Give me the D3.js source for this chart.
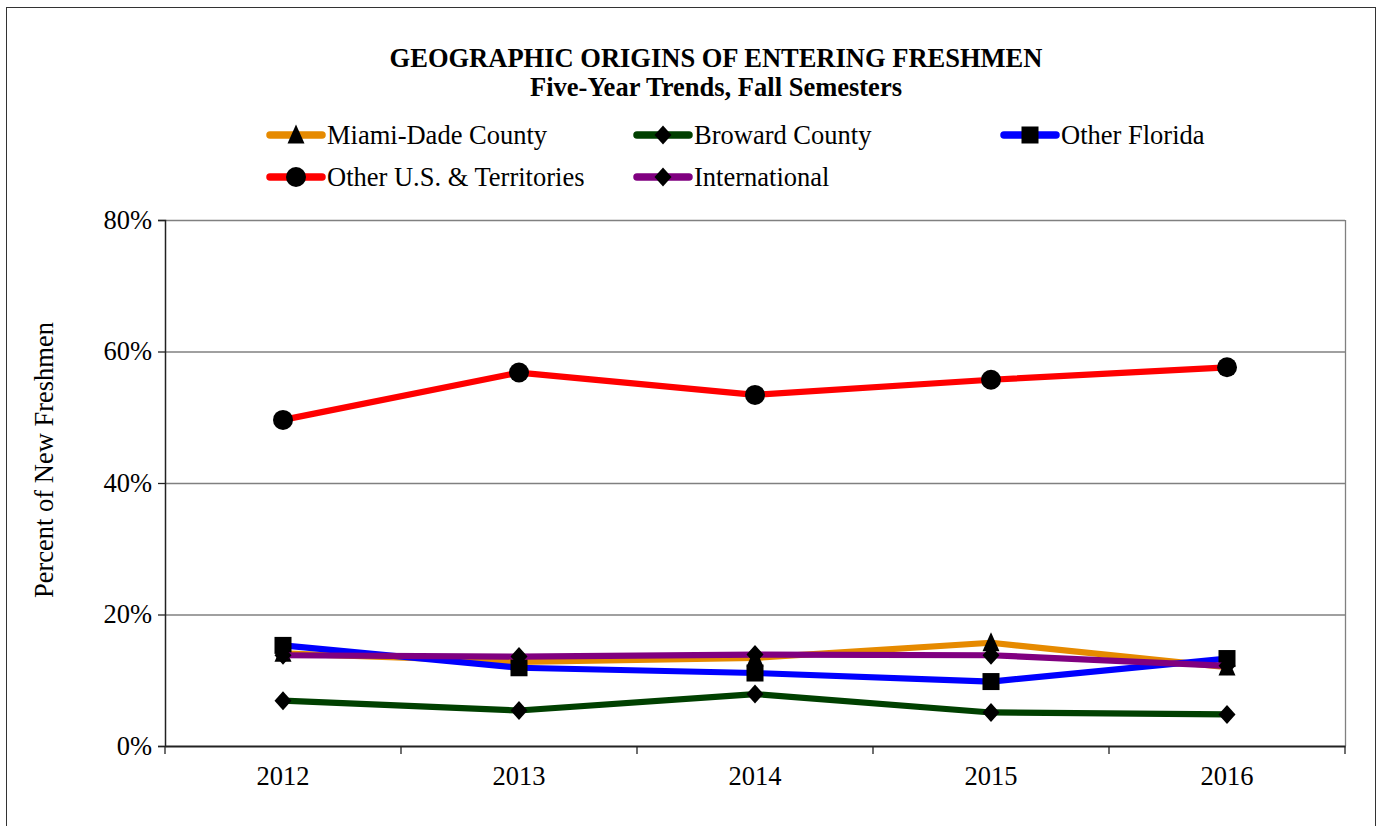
<!DOCTYPE html>
<html><head><meta charset="utf-8">
<script src="https://cdn.jsdelivr.net/npm/d3@7"></script>
<style>body{margin:0;background:#fff}svg text{font-family:"Liberation Serif","Times New Roman",serif}</style>
</head><body><svg id="c" width="1383" height="826"></svg>
<script>
const years = ["2012","2013","2014","2015","2016"];
const miamiDade = [14.1, 12.8, 13.4, 15.7, 12.0];
const broward = [6.9, 5.4, 7.9, 5.1, 4.8];
const otherFlorida = [15.3, 11.9, 11.1, 9.8, 13.3];
const otherUS = [49.6, 56.8, 53.4, 55.7, 57.6];
const international = [13.8, 13.6, 13.9, 13.8, 12.2];
const yTicks = [0, 20, 40, 60, 80];

const series = [
  {name:"Miami-Dade County", values:miamiDade, color:"#E68A00", marker:"triangle"},
  {name:"Broward County", values:broward, color:"#004000", marker:"diamond"},
  {name:"Other Florida", values:otherFlorida, color:"#0000FF", marker:"square"},
  {name:"Other U.S. & Territories", values:otherUS, color:"#FF0000", marker:"circle"},
  {name:"International", values:international, color:"#800080", marker:"diamond"}
];
const drawOrder = [0, 2, 4, 1, 3];
const FS = 26.5;

const svg = d3.select("#c");
svg.append("rect").attr("x",6.5).attr("y",7.5).attr("width",1369).attr("height",830)
  .attr("fill","#fff").attr("stroke","#333").attr("stroke-width",1);

const L=165, R=1345, T=220, B=746;
const x = d3.scaleBand().domain(years).range([L,R]);
const y = d3.scaleLinear().domain([0,80]).range([B,T]);

svg.append("g").selectAll("line").data(yTicks.filter(d=>d>0)).join("line")
  .attr("x1",L).attr("x2",R).attr("y1",d=>y(d)+0.5).attr("y2",d=>y(d)+0.5)
  .attr("stroke","#808080").attr("stroke-width",1.3);
svg.append("line").attr("x1",R+0.5).attr("x2",R+0.5).attr("y1",T).attr("y2",B)
  .attr("stroke","#808080").attr("stroke-width",1.3);

const ya = svg.append("g").attr("transform",`translate(${L},0)`)
  .call(d3.axisLeft(y).tickValues(yTicks).tickFormat(d=>d+"%").tickSizeOuter(0).tickSize(7).tickPadding(6));
ya.select(".domain").attr("stroke","#222").attr("stroke-width",1.5);
ya.selectAll(".tick line").attr("stroke","#222").attr("stroke-width",1.3);
ya.selectAll("text").attr("font-size",FS).attr("fill","#000").attr("font-family","Liberation Serif");

const xa = svg.append("g").attr("transform",`translate(0,${B})`)
  .call(d3.axisBottom(x).tickSize(0).tickPadding(20));
xa.select(".domain").attr("stroke","#222").attr("stroke-width",1.8);
xa.selectAll("text").attr("font-size",FS).attr("fill","#000").attr("font-family","Liberation Serif");
const bounds = years.map(d=>x(d)).concat([R]);
svg.append("g").selectAll("line").data(bounds).join("line")
  .attr("x1",d=>d).attr("x2",d=>d).attr("y1",B).attr("y2",B+8)
  .attr("stroke","#222").attr("stroke-width",1.3);

const cx = d => x(d)+x.bandwidth()/2;
function marker(g, type, px, py){
  if(type==="circle") g.append("circle").attr("cx",px).attr("cy",py).attr("r",10).attr("fill","#000");
  else if(type==="square") g.append("rect").attr("x",px-8.5).attr("y",py-8.5).attr("width",17).attr("height",17).attr("fill","#000");
  else if(type==="diamond") g.append("path").attr("d",`M${px},${py-9.5}L${px+8.5},${py}L${px},${py+9.5}L${px-8.5},${py}Z`).attr("fill","#000");
  else if(type==="triangle") g.append("path").attr("d",`M${px},${py-10.5}L${px+8.5},${py+8.5}L${px-8.5},${py+8.5}Z`).attr("fill","#000");
}

const line = d3.line().x((d,i)=>cx(years[i])).y(d=>y(d));
drawOrder.forEach(si=>{
  const s = series[si];
  const g = svg.append("g");
  g.append("path").attr("d",line(s.values)).attr("fill","none").attr("stroke",s.color)
    .attr("stroke-width",6.2).attr("stroke-linejoin","round");
  s.values.forEach((v,i)=>marker(g, s.marker, cx(years[i]), y(v)));
});

svg.append("text").attr("x",716).attr("y",67).attr("text-anchor","middle")
  .attr("font-size",FS).attr("font-weight","bold").text("GEOGRAPHIC ORIGINS OF ENTERING FRESHMEN");
svg.append("text").attr("x",716).attr("y",96).attr("text-anchor","middle")
  .attr("font-size",FS).attr("font-weight","bold").text("Five-Year Trends, Fall Semesters");

svg.append("text").attr("transform","translate(53,460) rotate(-90)").attr("text-anchor","middle")
  .attr("font-size",FS).text("Percent of New Freshmen");

const legPos = [[268,135],[635,135],[1002,135],[268,177],[635,177]];
series.forEach((s,i)=>{
  const [lx,ly] = legPos[i];
  const g = svg.append("g");
  g.append("line").attr("x1",lx+2).attr("x2",lx+54).attr("y1",ly).attr("y2",ly)
    .attr("stroke",s.color).attr("stroke-width",7.5).attr("stroke-linecap","round");
  marker(g, s.marker, lx+28, ly);
  g.append("text").attr("x",lx+59).attr("y",ly+9).attr("font-size",FS).text(s.name);
});
</script></body></html>
